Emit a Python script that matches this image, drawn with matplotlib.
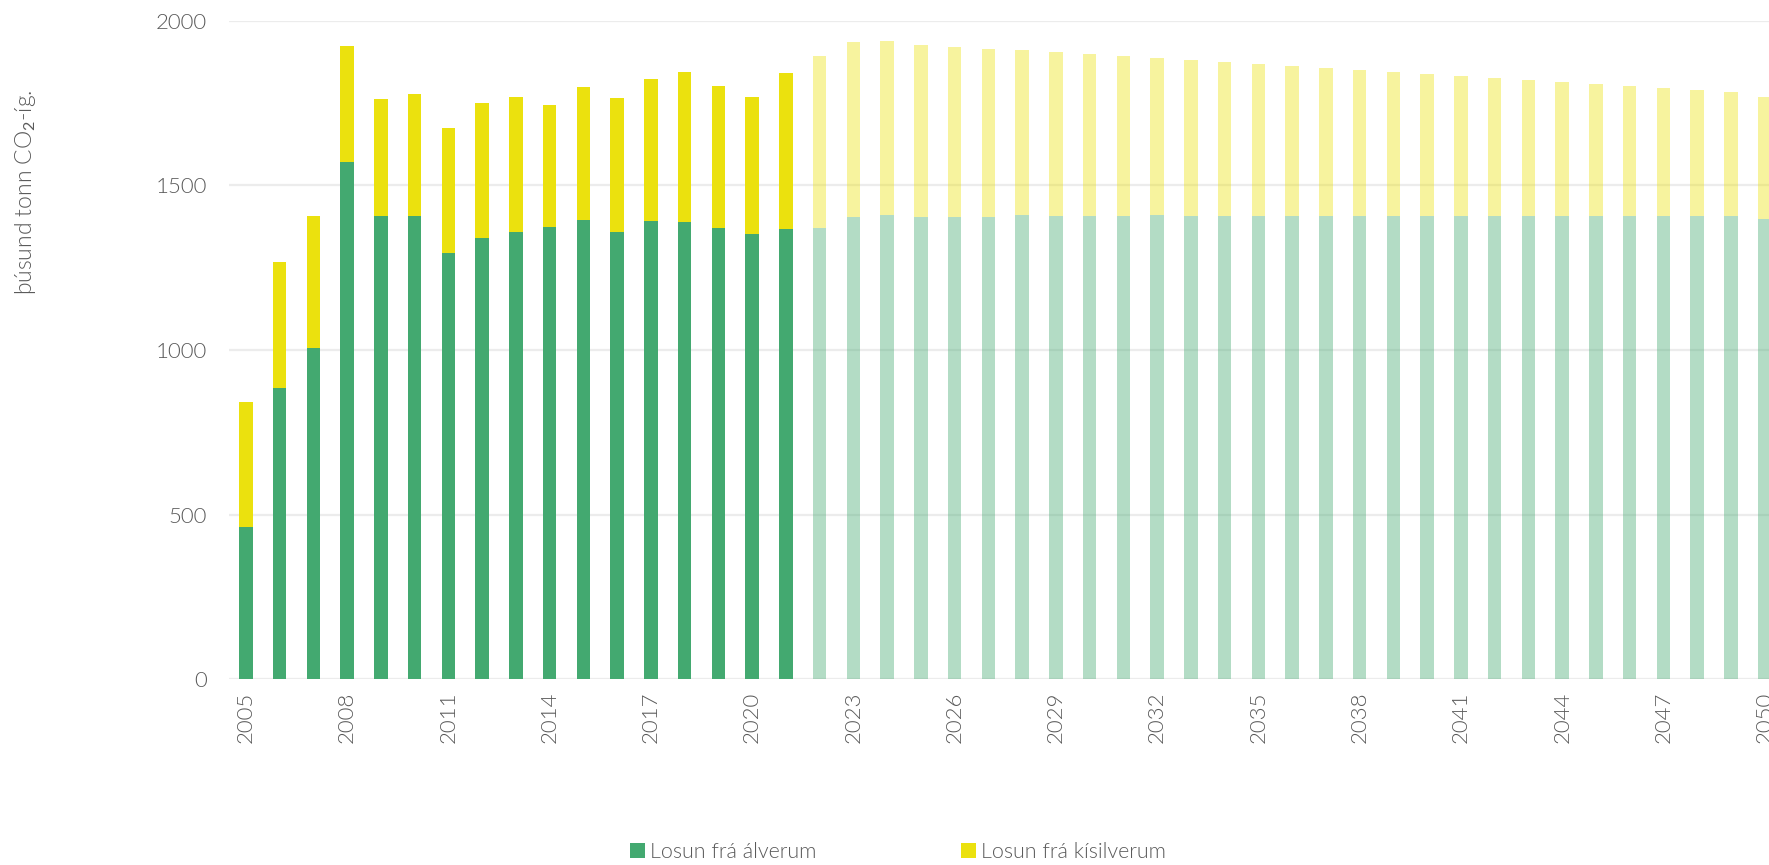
import numpy as np
import matplotlib
matplotlib.use("Agg")
import matplotlib.pyplot as plt
from matplotlib.patches import Patch

plt.rcParams["font.family"] = ["Lato", "DejaVu Sans"]
plt.rcParams["mathtext.fontset"] = "custom"
plt.rcParams["mathtext.rm"] = "Lato"
plt.rcParams["mathtext.it"] = "Lato"

YEARS = list(range(2005, 2051))
ALVER = [463, 886, 1006, 1571, 1407, 1407, 1296, 1339, 1359, 1373, 1396, 1359,
         1393, 1390, 1370, 1352, 1368, 1370, 1404, 1410, 1404, 1404, 1404, 1410,
         1407, 1407, 1407, 1409, 1407, 1407, 1407, 1408, 1407, 1407, 1406, 1407,
         1406, 1406, 1406, 1407, 1406, 1406, 1406, 1407, 1406, 1397]
KISILVER = [378, 380, 401, 352, 354, 371, 379, 411, 408, 370, 403, 406,
            429, 454, 432, 417, 474, 523, 532, 528, 522, 516, 509, 500,
            497, 491, 485, 477, 473, 467, 461, 454, 449, 443, 438, 432,
            426, 420, 414, 408, 402, 395, 389, 383, 378, 371]
LAST_ACTUAL = 2021
XTICKS = list(range(2005, 2051, 3))
YTICKS = [0, 500, 1000, 1500, 2000]

GREEN = "#43a970"
YELLOW = "#ebe10e"
TXT = "#5a5a5a"
GRID = "#ececec"
WEIGHT = 300

W, H = 1769, 865
fig = plt.figure(figsize=(W / 100, H / 100), dpi=100)
fig.patch.set_facecolor("white")

x0, x1 = 229, 1781.6
yb, yt = 679.3, 20.7
ax = fig.add_axes([x0 / W, 1 - yb / H, (x1 - x0) / W, (yb - yt) / H])

years = np.array(YEARS)
alver = np.array(ALVER)
kisil = np.array(KISILVER)
actual = years <= LAST_ACTUAL
fc = ~actual

ax.bar(years[actual], alver[actual], width=0.4, color=GREEN, zorder=3)
ax.bar(years[actual], kisil[actual], bottom=alver[actual], width=0.4,
       color=YELLOW, zorder=3)
ax.bar(years[fc], alver[fc], width=0.4, color=GREEN, alpha=0.4, zorder=3)
ax.bar(years[fc], kisil[fc], bottom=alver[fc], width=0.4, color=YELLOW,
       alpha=0.4, zorder=3)

ax.set_xlim(2004.5, 2050.5)
ax.set_ylim(0, 2000)
ax.set_yticks(YTICKS)
ax.set_xticks(XTICKS)
ax.set_xticklabels([str(y) for y in XTICKS], rotation=90)
ax.yaxis.grid(True, color=GRID, lw=1.6, zorder=0)
ax.set_axisbelow(True)
for s in ax.spines.values():
    s.set_visible(False)
ax.tick_params(axis="y", length=0, pad=16, labelsize=16, labelcolor=TXT)
ax.tick_params(axis="x", length=0, pad=9, labelsize=16, labelcolor=TXT)
for lab in ax.get_xticklabels() + ax.get_yticklabels():
    lab.set_fontweight(WEIGHT)

fig.text(26 / W, 1 - 192 / H, "þúsund tonn CO$_2$-íg.", rotation=90,
         ha="center", va="center", fontsize=16.5, color=TXT, fontweight=WEIGHT)

handles = [Patch(facecolor=GREEN, label="Losun frá álverum"),
           Patch(facecolor=YELLOW, label="Losun frá kísilverum")]
leg = fig.legend(handles=handles, ncol=2, loc="center",
                 bbox_to_anchor=(898 / W, 1 - 852 / H), frameon=False,
                 fontsize=15.5, handlelength=0.7, handleheight=0.7,
                 handletextpad=0.25, columnspacing=6.7)
for t in leg.get_texts():
    t.set_color(TXT)
    t.set_fontweight(WEIGHT)

fig.savefig("out.png", dpi=100, facecolor="white")
